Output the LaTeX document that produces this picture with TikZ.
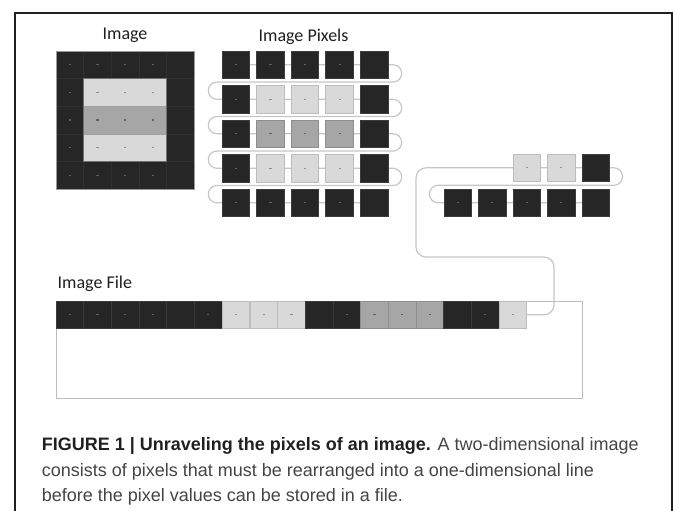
\documentclass[tikz,border=0pt]{standalone}
\usepackage{fontspec}
\setmainfont{Carlito}
\newfontfamily\capfont{Liberation Sans}
\usetikzlibrary{calc}
\pgfdeclarelayer{background}
\pgfsetlayers{background,main}

\definecolor{pxdark}{HTML}{262626}
\definecolor{pxlight}{HTML}{D9D9D9}
\definecolor{pxgray}{HTML}{A6A6A6}
\definecolor{dkedge}{HTML}{3C3C3C}
\definecolor{ltedge}{HTML}{BDBDBD}
\definecolor{gyedge}{HTML}{8E8E8E}
\colorlet{dkdot}{black!62}
\colorlet{ltdot}{black!45}
\colorlet{gydot}{black!62}
\definecolor{wirecol}{HTML}{C6C6C6}
\definecolor{framecol}{HTML}{231F20}
\definecolor{captxt}{HTML}{444444}

\tikzset{
  pix/.style={minimum width=27.6pt, minimum height=27.6pt, inner sep=0pt,
              outer sep=0pt, line width=0.8pt, anchor=north west},
  dk/.style={pix, fill=pxdark, draw=dkedge},
  lt/.style={pix, fill=pxlight, draw=ltedge},
  gy/.style={pix, fill=pxgray, draw=gyedge},
  % cells of the solid image: only the dark border shows faint seams
  gdk/.style={pix, fill=pxdark, draw=black!81, line width=0.5pt},
  glt/.style={pix, fill=pxlight, draw=none},
  ggy/.style={pix, fill=pxgray, draw=none},
  cell/.style={pix, minimum width=27.7pt, minimum height=27.7pt},
  wire/.style={draw=wirecol, line width=1.2pt},
  lbl/.style={font=\fontsize{18}{20}\selectfont, text=black!88, inner sep=0pt, anchor=base},
  capline/.style={font=\capfont\fontsize{18}{22}\selectfont, text=captxt,
                  inner sep=0pt, anchor=base west},
}

% small centred tick that marks a pixel value
\newcommand\pxmark[2]{\fill[#2] ($(#1.center)+(-1.1,-0.6)$) rectangle ($(#1.center)+(1.1,0.6)$);}

\begin{document}
\begin{tikzpicture}[x=1pt, y=-1pt]
\useasboundingbox (0,0) rectangle (673,511);

% outer frame, open at the bottom
\draw[framecol, line width=2pt] (15,511) -- (15,12.7) -- (672,12.7) -- (672,511);

% ---------- titles ----------
\node[lbl] (tImage) at (125,40) {Image};
\node[lbl] (tPixels) at (303.5,42) {Image Pixels};
\node[lbl, anchor=base west] (tFile) at (57.5,288) {Image File};

% ---------- the image as a 5x5 grid ----------
\foreach \row [count=\r] in {{dk,dk,dk,dk,dk},{dk,lt,lt,lt,dk},{dk,gy,gy,gy,dk},{dk,lt,lt,lt,dk},{dk,dk,dk,dk,dk}}{
  \foreach \kind [count=\c] in \row {
    \node[g\kind] (g-\r-\c) at ({56+27.6*(\c-1)},{51+27.6*(\r-1)}) {};
    \ifnum\c<5 \pxmark{g-\r-\c}{\kind dot}\fi
  }
}
\draw[ltedge!85!black, line width=0.5pt] (g-2-2.south west) -- (g-2-4.south east)
                                         (g-3-2.south west) -- (g-3-4.south east);
\draw[gyedge!80!black, line width=0.8pt] (g-2-2.north west) rectangle (g-4-4.south east);
\draw[black!40, line width=0.8pt] (g-1-1.north west) rectangle (g-5-5.south east);

% ---------- separated pixels ----------
\foreach \row [count=\r] in {{dk,dk,dk,dk,dk},{dk,lt,lt,lt,dk},{dk,gy,gy,gy,dk},{dk,lt,lt,lt,dk},{dk,dk,dk,dk,dk}}{
  \foreach \kind [count=\c] in \row {
    \node[\kind] (p-\r-\c) at ({222+34.6*(\c-1)},{51+34.5*(\r-1)}) {};
    \ifnum\c<5 \pxmark{p-\r-\c}{\kind dot}\fi
  }
}

% ---------- pixels still being unravelled ----------
\foreach \kind [count=\c] in {lt,lt,dk}{
  \node[\kind] (q-\c) at ({513+34.5*(\c-1)},154) {};
  \ifnum\c<3 \pxmark{q-\c}{\kind dot}\fi
}
\foreach \c in {1,...,5}{
  \node[dk] (s-\c) at ({444+34.5*(\c-1)},189) {};
  \ifnum\c<5 \pxmark{s-\c}{dkdot}\fi
}

% ---------- the image file ----------
\node[draw=ltedge, line width=0.8pt, minimum width=526pt, minimum height=97pt,
      inner sep=0pt, anchor=north west] (filebox) at (56,301) {};
\foreach \kind [count=\i] in {dk,dk,dk,dk,dk,dk,lt,lt,lt,dk,dk,gy,gy,gy,dk,dk,lt}{
  \node[cell, \kind] (f-\i) at ({56+27.7*(\i-1)},301) {};
  \ifnum\i=5 \else\ifnum\i=10 \else\ifnum\i=15 \else \pxmark{f-\i}{\kind dot}\fi\fi\fi
}

% ---------- connectors running behind the pixels ----------
\coordinate (xr) at (401.7,0);
\coordinate (xl) at (208.3,0);
\coordinate (xr2) at (622.5,0);
\coordinate (xl2) at (429.5,0);
\coordinate (bendR) at (554,257);
\coordinate (bendL) at (416,257);
\foreach \r [evaluate=\r as \n using int(\r+1)] in {1,...,4}{
  \coordinate (gap-\r) at ($(p-\r-5.south)!.5!(p-\n-5.north)$);
}
\coordinate (gapq) at ($(q-3.south)!.5!(s-5.north)$);

\begin{pgfonlayer}{background}
  \draw[wire, rounded corners=8.6pt]
    (p-1-1.center) -- (p-1-5.center -| xr) |- (gap-1 -| xl) |- (p-2-1.center)
    -- (p-2-5.center -| xr) |- (gap-2 -| xl) |- (p-3-1.center)
    -- (p-3-5.center -| xr) |- (gap-3 -| xl) |- (p-4-1.center)
    -- (p-4-5.center -| xr) |- (gap-4 -| xl) |- (p-5-1.center)
    -- (p-5-5.center);
  \draw[wire, rounded corners=10pt]
    (f-17.center) -| (bendR) -- (bendL) |- (q-1.center)
    [rounded corners=8.6pt]
    -- (q-3.center -| xr2) |- (gapq -| xl2) |- (s-1.center) -- (s-5.center);
\end{pgfonlayer}

% ---------- caption ----------
\node[capline] (cap1) at (41.6,450.7)
  {{\bfseries\color{framecol}FIGURE 1 | Unraveling the pixels of an image.} A two-dimensional image};
\node[capline] (cap2) at (41.6,476)
  {consists of pixels that must be rearranged into a one-dimensional line};
\node[capline] (cap3) at (41.6,501.3)
  {before the pixel values can be stored in a file.};
\end{tikzpicture}
\end{document}
